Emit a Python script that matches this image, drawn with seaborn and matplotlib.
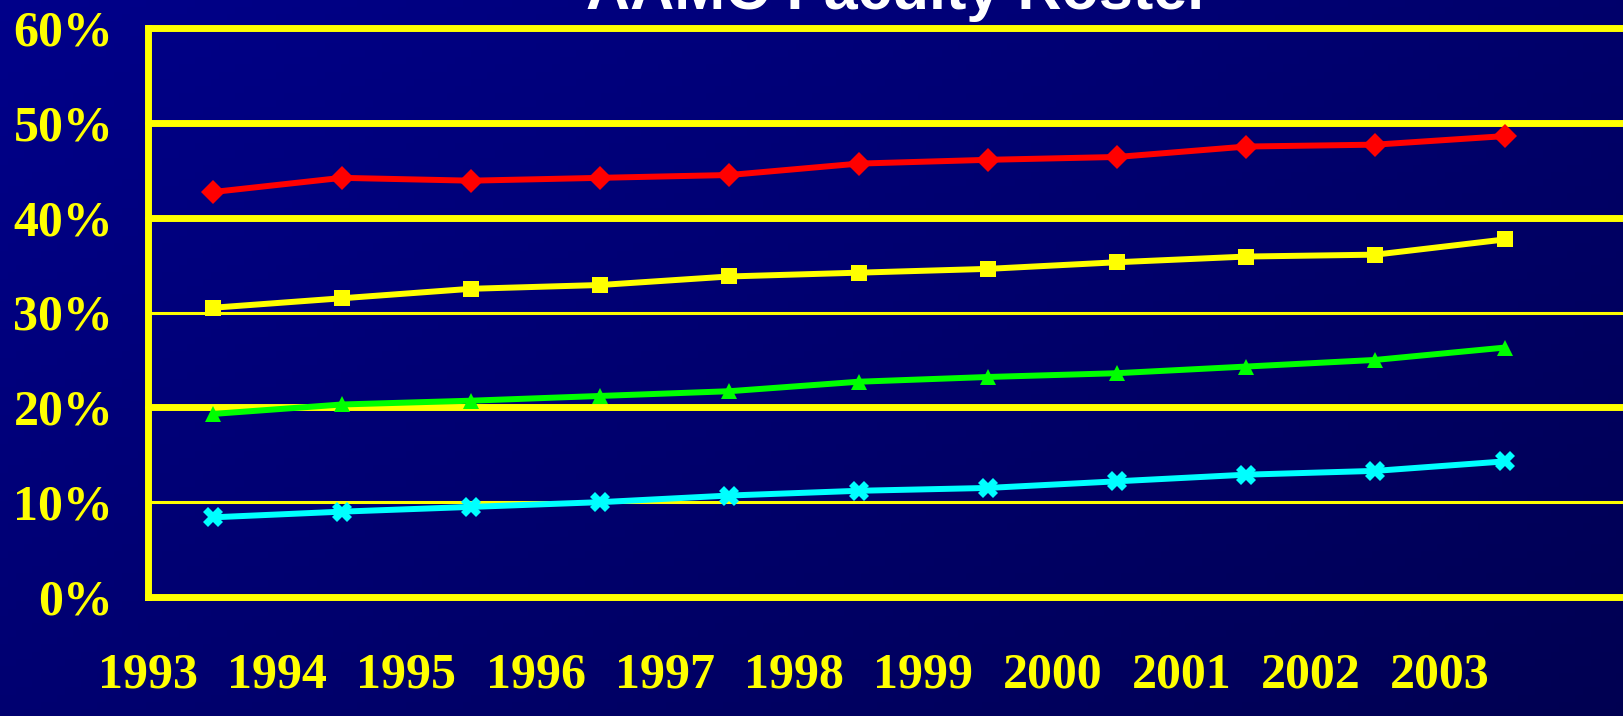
import numpy as np
import pandas as pd
import matplotlib
matplotlib.use("Agg")
import matplotlib.pyplot as plt
import seaborn as sns

# data (percent)
years = [1993, 1994, 1995, 1996, 1997, 1998, 1999, 2000, 2001, 2002, 2003]
instructor = [42.7, 44.2, 43.9, 44.2, 44.5, 45.7, 46.1, 46.4, 47.5, 47.7, 48.6]
assistant = [30.5, 31.5, 32.5, 32.9, 33.8, 34.2, 34.6, 35.3, 35.9, 36.1, 37.7]
associate = [19.3, 20.3, 20.7, 21.2, 21.7, 22.7, 23.2, 23.6, 24.3, 25.0, 26.3]
professor = [8.4, 9.0, 9.5, 10.0, 10.7, 11.2, 11.5, 12.2, 12.9, 13.3, 14.3]
series_names = ["Instructor", "Assistant Professor", "Associate Professor", "Professor"]
y_ticks = [0, 10, 20, 30, 40, 50, 60]

df = pd.DataFrame({"year": years, series_names[0]: instructor, series_names[1]: assistant,
                   series_names[2]: associate, series_names[3]: professor})
long = df.melt(id_vars="year", var_name="rank", value_name="pct")
# points sit in the middle of each year band
long["x"] = long["year"] + 0.5

sns.set_style("white")
fig = plt.figure(figsize=(16.24, 7.16), dpi=100)

# gradient background
bg = fig.add_axes([0, 0, 1, 1], zorder=0)
gx, gy = np.meshgrid(np.linspace(0, 1, 200), np.linspace(0, 1, 100))
g = 0.55 * gx + 0.45 * gy
img = np.zeros((100, 200, 3))
img[..., 2] = 0.54 - 0.22 * g
bg.imshow(img, aspect="auto", extent=[0, 1, 0, 1])
bg.axis("off")

ax = fig.add_axes([148 / 1624, 1 - 597 / 716, 1 - 148 / 1624, (597 - 28) / 716], zorder=1)
ax.patch.set_alpha(0)

yellow = "#ffff00"
for v in y_ticks[1:]:
    lw = 2.2 if v in (10, 30) else 5.0
    ax.axhline(v, color=yellow, lw=lw, clip_on=False, zorder=1)

palette = {series_names[0]: "#ff0000", series_names[1]: "#ffff00",
           series_names[2]: "#00ff00", series_names[3]: "#00ffff"}
markers = {series_names[0]: "D", series_names[1]: "s",
           series_names[2]: "^", series_names[3]: "X"}
sns.lineplot(data=long, x="x", y="pct", hue="rank", style="rank", palette=palette,
             markers=markers, dashes=False, lw=4.3, markersize=12, markeredgewidth=0,
             legend=False, ax=ax, zorder=3, clip_on=False)

# the cross markers look a bit bigger in the original
for line in ax.get_lines():
    if line.get_marker() == "X":
        line.set_markersize(15)

ax.set_xlim(1993, 1993 + (1624 - 148) / 129.2)
ax.set_ylim(0, 60)
ax.set_xticks(years)
ax.set_xticklabels([str(y) for y in years])
ax.set_yticks(y_ticks)
ax.set_yticklabels([f"{v}%" for v in y_ticks])
ax.set_xlabel("")
ax.set_ylabel("")

for s in ["top", "right"]:
    ax.spines[s].set_visible(False)
for s in ["left", "bottom"]:
    ax.spines[s].set_color(yellow)
    ax.spines[s].set_linewidth(5)
    ax.spines[s].set_zorder(2)

ax.tick_params(axis="x", direction="out", length=9, width=3, color=yellow, pad=31,
               labelcolor=yellow, labelsize=36)
ax.tick_params(axis="y", direction="out", length=9, width=5, color=yellow, pad=16,
               labelcolor=yellow, labelsize=36)
for lab in ax.get_xticklabels() + ax.get_yticklabels():
    lab.set_fontfamily("Liberation Serif")
    lab.set_fontweight("bold")

# title is cut by the top edge in the reference too
fig.text(0.553, 1 - 9 / 716, "AAMC Faculty Roster", color="white", fontsize=44,
         fontweight="bold", family="Liberation Sans", ha="center", va="baseline")

fig.savefig("out.png", dpi=100)
